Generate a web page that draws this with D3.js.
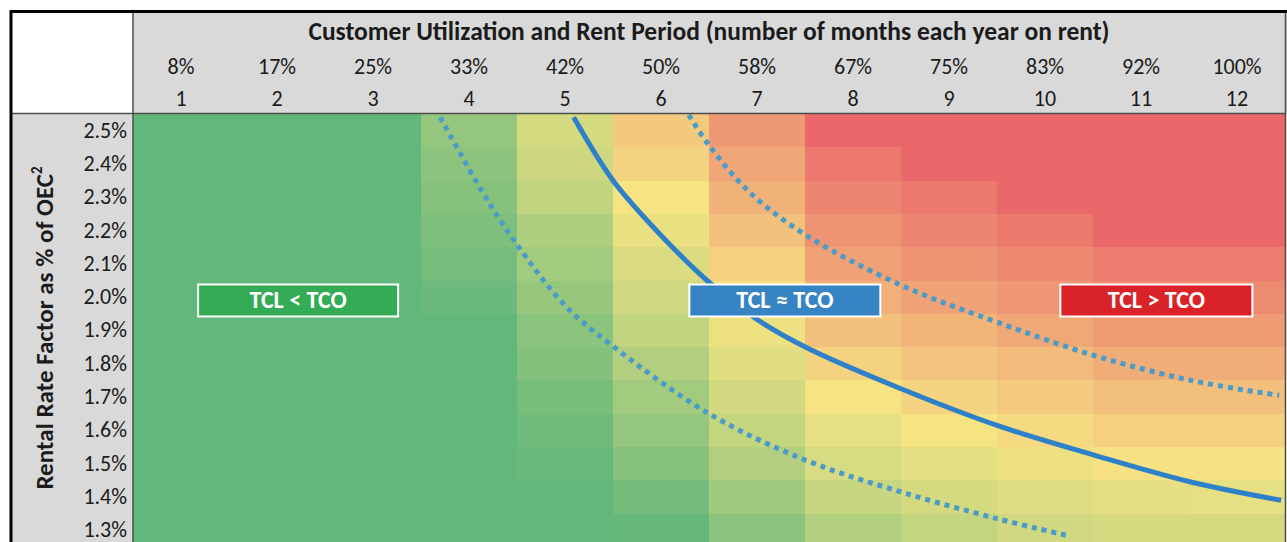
<!DOCTYPE html>
<html>
<head>
<meta charset="utf-8">
<script src="https://cdn.jsdelivr.net/npm/d3@7"></script>
<style>
html, body { margin: 0; padding: 0; overflow: hidden; background: #fff; }
text { font-family: Carlito, Calibri, Lato, sans-serif; fill: #1b1b1b; }
</style>
</head>
<body>
<script>
// months on rent each year and the matching utilization
var months = [1, 2, 3, 4, 5, 6, 7, 8, 9, 10, 11, 12];
var utilization = ["8%", "17%", "25%", "33%", "42%", "50%", "58%", "67%", "75%", "83%", "92%", "100%"];
var rates = ["2.5%", "2.4%", "2.3%", "2.2%", "2.1%", "2.0%", "1.9%", "1.8%", "1.7%", "1.6%", "1.5%", "1.4%", "1.3%"];

// colour score per cell (0 = green, 0.5 = yellow, 1 = red), one row per rate
var score = [
	[0, 0, 0, 0.17, 0.39, 0.61, 0.80, 1.00, 1.00, 1.00, 1.00, 1.00],
	[0, 0, 0, 0.145, 0.36, 0.57, 0.75, 0.93, 1.00, 1.00, 1.00, 1.00],
	[0, 0, 0, 0.125, 0.32, 0.50, 0.70, 0.875, 0.925, 1.00, 1.00, 1.00],
	[0, 0, 0, 0.09, 0.26, 0.456, 0.64, 0.82, 0.875, 0.92, 1.00, 1.00],
	[0, 0, 0, 0.064, 0.22, 0.41, 0.58, 0.77, 0.82, 0.87, 0.915, 0.91],
	[0, 0, 0, 0.034, 0.18, 0.37, 0.52, 0.71, 0.76, 0.81, 0.86, 0.855],
	[0, 0, 0, 0, 0.14, 0.32, 0.47, 0.645, 0.69, 0.74, 0.79, 0.79],
	[0, 0, 0, 0, 0.11, 0.27, 0.43, 0.57, 0.63, 0.67, 0.72, 0.72],
	[0, 0, 0, 0, 0.074, 0.22, 0.38, 0.50, 0.565, 0.60, 0.65, 0.65],
	[0, 0, 0, 0, 0.047, 0.17, 0.33, 0.45, 0.50, 0.54, 0.58, 0.58],
	[0, 0, 0, 0, 0.02, 0.12, 0.27, 0.395, 0.44, 0.47, 0.51, 0.51],
	[0, 0, 0, 0, 0, 0.06, 0.21, 0.34, 0.39, 0.42, 0.446, 0.45],
	[0, 0, 0, 0, 0, 0.015, 0.145, 0.27, 0.33, 0.37, 0.39, 0.39]
];

// curves as [month, rate %]
var breakEven = [[5.09, 2.54], [5.5, 2.35], [5.92, 2.21], [6.48, 2.05], [6.99, 1.935], [7.54, 1.845],
	[8.5, 1.725], [9.5, 1.615], [10.52, 1.525], [11.52, 1.445], [12.46, 1.39]];
var lowerBand = [[3.70, 2.54], [4.14, 2.316], [4.48, 2.166], [5.0, 1.975], [5.49, 1.855], [6.5, 1.65],
	[7.51, 1.51], [8.5, 1.415], [9.5, 1.335], [10.22, 1.285]];
var upperBand = [[6.29, 2.547], [6.5, 2.456], [6.92, 2.316], [7.51, 2.186], [8.5, 2.036], [9.5, 1.925],
	[10.51, 1.825], [11.52, 1.75], [12.44, 1.705]];

var zones = [
	{ label: "TCL < TCO", month: 2.22, rate: 1.99, w: 200, fill: "#34AB55" },
	{ label: "TCL \u2248 TCO", month: 7.29, rate: 1.99, w: 191, fill: "#3784C5" },
	{ label: "TCL > TCO", month: 11.16, rate: 1.99, w: 192, fill: "#DA2328" }
];

var width = 1287, height = 542;
var left = 133, right = 1285, headTop = 13, gridTop = 114, rowH = 33.3;

var svg = d3.select("body").append("svg")
	.attr("width", width)
	.attr("height", height);

var x = d3.scaleBand().domain(months).range([left, right]);
var y = d3.scaleBand().domain(rates).range([gridTop, gridTop + rowH * rates.length]);
var xc = d3.scaleLinear().domain([0.5, 12.5]).range([left, right]);
var yc = d3.scaleLinear().domain([2.55, 1.25]).range([gridTop, gridTop + rowH * rates.length]);
var color = d3.scaleLinear().domain([0, 0.5, 1]).range(["#62B77A", "#F6E483", "#EA676A"]);

// header and label backgrounds
svg.append("rect").attr("x", left).attr("y", headTop).attr("width", width - left).attr("height", gridTop - headTop).attr("fill", "#D9D9D9");
svg.append("rect").attr("x", 12).attr("y", gridTop).attr("width", left - 12).attr("height", height - gridTop).attr("fill", "#D9D9D9");

// heat cells
var cells = [];
rates.forEach(function(r, i) {
	months.forEach(function(m, j) {
		cells.push({ rate: r, month: m, v: score[i][j] });
	});
});

svg.append("g").selectAll("rect").data(cells).enter().append("rect")
	.attr("x", function(d) { return x(d.month); })
	.attr("y", function(d) { return y(d.rate); })
	.attr("width", x.bandwidth() + 0.5)
	.attr("height", y.bandwidth() + 0.5)
	.attr("fill", function(d) { return color(d.v); })
	.attr("shape-rendering", "crispEdges");

// curves
svg.append("clipPath").attr("id", "grid-clip").append("rect")
	.attr("x", left).attr("y", gridTop).attr("width", right - left).attr("height", height - gridTop);

var line = d3.line()
	.x(function(d) { return xc(d[0]); })
	.y(function(d) { return yc(d[1]); })
	.curve(d3.curveCatmullRom);

var curves = svg.append("g").attr("clip-path", "url(#grid-clip)");
curves.append("path").datum(lowerBand)
	.attr("d", line).attr("fill", "none")
	.attr("stroke", "#4B9BC9").attr("stroke-width", 5).attr("stroke-dasharray", "5,5");
curves.append("path").datum(upperBand)
	.attr("d", line).attr("fill", "none")
	.attr("stroke", "#4B9BC9").attr("stroke-width", 5).attr("stroke-dasharray", "5,5");
curves.append("path").datum(breakEven)
	.attr("d", line).attr("fill", "none")
	.attr("stroke", "#2E80C9").attr("stroke-width", 5);

// zone labels
var zone = svg.append("g").selectAll("g").data(zones).enter().append("g")
	.attr("transform", function(d) { return "translate(" + xc(d.month) + "," + yc(d.rate) + ")"; });
zone.append("rect")
	.attr("x", function(d) { return -d.w / 2; })
	.attr("y", -16)
	.attr("width", function(d) { return d.w; })
	.attr("height", 32)
	.attr("fill", function(d) { return d.fill; })
	.attr("stroke", "#fff")
	.attr("stroke-width", 2);
zone.append("text")
	.attr("text-anchor", "middle")
	.attr("y", 8)
	.attr("font-size", "24px")
	.attr("font-weight", "bold")
	.style("fill", "#fff")
	.text(function(d) { return d.label; });

// frame lines
svg.append("line").attr("x1", left).attr("x2", left).attr("y1", headTop).attr("y2", height).attr("stroke", "#4d4d4d").attr("stroke-width", 1.5);
svg.append("line").attr("x1", 12).attr("x2", right).attr("y1", gridTop - 0.5).attr("y2", gridTop - 0.5).attr("stroke", "#4d4d4d").attr("stroke-width", 1.5);
svg.append("line").attr("x1", right + 0.5).attr("x2", right + 0.5).attr("y1", headTop).attr("y2", height).attr("stroke", "#4d4d4d").attr("stroke-width", 1.5);
svg.append("path").attr("d", "M11," + height + "V11.5H" + width).attr("fill", "none").attr("stroke", "#000").attr("stroke-width", 3);

// header text
svg.append("text")
	.attr("x", (left + right) / 2).attr("y", 40)
	.attr("text-anchor", "middle")
	.attr("font-size", "25.5px").attr("font-weight", "bold")
	.text("Customer Utilization and Rent Period (number of months each year on rent)");

svg.append("g").selectAll("text").data(months).enter().append("text")
	.attr("x", function(d) { return x(d) + x.bandwidth() / 2; })
	.attr("y", 74)
	.attr("text-anchor", "middle")
	.attr("font-size", "22px")
	.text(function(d, i) { return utilization[i]; });

svg.append("g").selectAll("text").data(months).enter().append("text")
	.attr("x", function(d) { return x(d) + x.bandwidth() / 2; })
	.attr("y", 106)
	.attr("text-anchor", "middle")
	.attr("font-size", "22px")
	.text(function(d) { return d; });

svg.append("g").selectAll("text").data(rates).enter().append("text")
	.attr("x", 127)
	.attr("y", function(d) { return y(d) + y.bandwidth() / 2 + 7; })
	.attr("text-anchor", "end")
	.attr("font-size", "22px")
	.text(function(d) { return d; });

var yTitle = svg.append("text")
	.attr("transform", "translate(53,328) rotate(-90)")
	.attr("text-anchor", "middle")
	.attr("font-size", "25px").attr("font-weight", "bold");
yTitle.append("tspan").text("Rental Rate Factor as % of OEC");
yTitle.append("tspan").attr("font-size", "15px").attr("dy", -11).text("2");
</script>
</body>
</html>
